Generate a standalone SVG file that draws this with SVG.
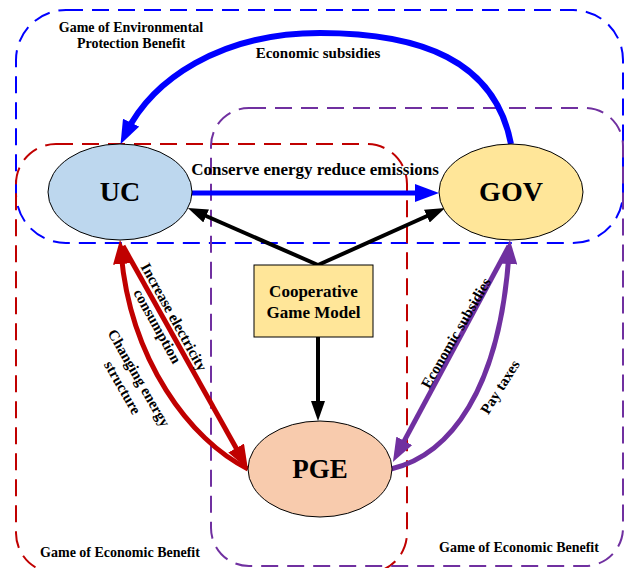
<svg xmlns="http://www.w3.org/2000/svg" width="629" height="568" viewBox="0 0 629 568">
<style>
.t{font-family:"Liberation Serif","Times New Roman",serif;font-weight:bold;fill:#000}
.m{text-anchor:middle}
.grp{fill:none;stroke-width:2;stroke-dasharray:17,9}
.node{stroke:#000;stroke-width:1}
.c{fill:none}
</style>
<defs>
<marker id="ab" markerUnits="userSpaceOnUse" markerWidth="20" markerHeight="14" refX="10" refY="7" orient="auto"><path d="M0,0 L20,7 L0,14 z" fill="#000"/></marker>
<marker id="abl" markerUnits="userSpaceOnUse" markerWidth="24" markerHeight="18" refX="12" refY="9" orient="auto"><path d="M0,0 L24,9 L0,18 z" fill="#0000FF"/></marker>
<marker id="ar" markerUnits="userSpaceOnUse" markerWidth="24" markerHeight="18" refX="12" refY="9" orient="auto"><path d="M0,0 L24,9 L0,18 z" fill="#C00000"/></marker>
<marker id="ap" markerUnits="userSpaceOnUse" markerWidth="24" markerHeight="18" refX="12" refY="9" orient="auto"><path d="M0,0 L24,9 L0,18 z" fill="#7030A0"/></marker>
</defs>
<rect width="629" height="568" fill="#fff"/>
<g id="groups">
<rect id="g-env" class="grp" x="16" y="10" width="607" height="233" rx="50" stroke="#0000FF"/>
<rect id="g-eco1" class="grp" x="16" y="144" width="391" height="429" rx="40" stroke="#C00000"/>
<rect id="g-eco2" class="grp" x="211" y="108" width="412" height="458" rx="38" stroke="#7030A0"/>
<text class="t m" x="131" y="32" font-size="14">Game of Environmental</text>
<text class="t m" x="131" y="48" font-size="14">Protection Benefit</text>
<text class="t m" x="120" y="557" font-size="14">Game of Economic Benefit</text>
<text class="t m" x="519" y="552" font-size="14">Game of Economic Benefit</text>
</g>
<g id="connectors">
<path class="c" d="M318,265 L197,212" stroke="#000" stroke-width="4" marker-end="url(#ab)"/>
<path class="c" d="M318,265 L436,212" stroke="#000" stroke-width="4" marker-end="url(#ab)"/>
<path class="c" d="M318,337 L318,411" stroke="#000" stroke-width="4" marker-end="url(#ab)"/>
<path class="c" d="M192,193 L427,193" stroke="#0000FF" stroke-width="5" marker-end="url(#abl)"/>
<path class="c" d="M511,144 C495,60 420,33 320,33 C220,33 152,80 125.8,133.5" stroke="#0000FF" stroke-width="6" marker-end="url(#abl)"/>
<path class="c" d="M123,246 L242,458.5" stroke="#C00000" stroke-width="5" marker-end="url(#ar)"/>
<path class="c" d="M248,469 C190,440 130,360 121,252" stroke="#C00000" stroke-width="5" marker-end="url(#ar)"/>
<path class="c" d="M509,246 L398.6,451.4" stroke="#7030A0" stroke-width="5" marker-end="url(#ap)"/>
<path class="c" d="M391,469 C450,455 500,390 509.1,252" stroke="#7030A0" stroke-width="5" marker-end="url(#ap)"/>
<text class="t m" x="318" y="58" font-size="15">Economic subsidies</text>
<text class="t m" x="315" y="175" font-size="17">Conserve energy reduce emissions</text>
<g transform="translate(174,317) rotate(61)">
<text class="t m" x="0" y="5" font-size="15">Increase electricity</text>
<text class="t m" x="0" y="24" font-size="15">consumption</text>
</g>
<g transform="translate(139,378) rotate(60)">
<text class="t m" x="0" y="5" font-size="15">Changing energy</text>
<text class="t m" x="0" y="24" font-size="15">structure</text>
</g>
<g transform="translate(456,333) rotate(-60)">
<text class="t m" x="0" y="5" font-size="15">Economic subsidies</text>
</g>
<g transform="translate(500,387) rotate(-58)">
<text class="t m" x="0" y="5" font-size="15">Pay taxes</text>
</g>
</g>
<g id="UC">
<ellipse class="node" cx="120" cy="192" rx="72" ry="48" fill="#BDD7EE"/>
<text class="t m" x="120" y="201" font-size="28">UC</text>
</g>
<g id="GOV">
<ellipse class="node" cx="511" cy="192" rx="72" ry="48" fill="#FFE699"/>
<text class="t m" x="511" y="201" font-size="28">GOV</text>
</g>
<g id="PGE">
<ellipse class="node" cx="320" cy="469" rx="72" ry="48" fill="#F8CBAD"/>
<text class="t m" x="320" y="478" font-size="27">PGE</text>
</g>
<g id="CGM">
<rect class="node" x="254" y="265" width="119" height="72" fill="#FFE699"/>
<text class="t m" x="313.5" y="297" font-size="17">Cooperative</text>
<text class="t m" x="313.5" y="318" font-size="17">Game Model</text>
</g>
</svg>
